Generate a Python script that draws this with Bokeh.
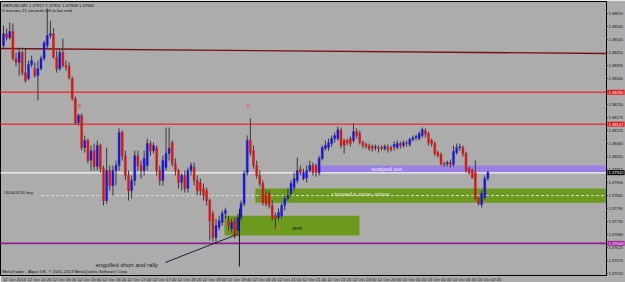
from bokeh.plotting import figure
from bokeh.models import Range1d, FixedTicker, Label, ColumnDataSource, PrintfTickFormatter
from bokeh.core.properties import value
from bokeh.embed import file_html
from bokeh.resources import INLINE

# ---------------- data ----------------
symbol = "GBPUSD,M5"
bar_index = list(range(156))
opens = [1.38480, 1.38530, 1.38513, 1.38539, 1.38425, 1.38408, 1.38450, 1.38365, 1.38340, 1.38399,
         1.38382, 1.38353, 1.38382, 1.38425, 1.38480, 1.38522, 1.38530, 1.38429, 1.38382, 1.38450,
         1.38395, 1.38391, 1.38340, 1.38255, 1.38154, 1.38184, 1.38048, 1.38078, 1.37993, 1.38035,
         1.37968, 1.38057, 1.37959, 1.37824, 1.37951, 1.37887, 1.37951, 1.37972, 1.38112, 1.38014,
         1.37930, 1.37866, 1.37909, 1.38014, 1.37972, 1.37951, 1.37972, 1.38065, 1.38035, 1.38048,
         1.37951, 1.37909, 1.37964, 1.38023, 1.38069, 1.37980, 1.37951, 1.37900, 1.37930, 1.37875,
         1.37951, 1.37964, 1.37909, 1.37900, 1.37875, 1.37866, 1.37824, 1.37769, 1.37668, 1.37710,
         1.37731, 1.37769, 1.37739, 1.37706, 1.37739, 1.37697, 1.37752, 1.37811, 1.37942, 1.38078,
         1.38035, 1.37972, 1.37930, 1.37896, 1.37845, 1.37854, 1.37803, 1.37760, 1.37752, 1.37760,
         1.37803, 1.37832, 1.37854, 1.37879, 1.37909, 1.37955, 1.37917, 1.37921, 1.37951, 1.37972,
         1.37972, 1.37942, 1.38002, 1.38044, 1.38048, 1.38065, 1.38086, 1.38086, 1.38120, 1.38078,
         1.38078, 1.38086, 1.38078, 1.38116, 1.38107, 1.38069, 1.38061, 1.38057, 1.38052, 1.38048,
         1.38048, 1.38048, 1.38044, 1.38048, 1.38048, 1.38052, 1.38048, 1.38065, 1.38057, 1.38069,
         1.38061, 1.38082, 1.38090, 1.38086, 1.38099, 1.38120, 1.38107, 1.38078, 1.38065, 1.38027,
         1.38019, 1.37980, 1.37980, 1.37985, 1.37976, 1.38027, 1.38048, 1.38048, 1.38023, 1.37959,
         1.37951, 1.37942, 1.37832, 1.37807, 1.37837, 1.37917]
highs = [1.38564, 1.38552, 1.38577, 1.38573, 1.38450, 1.38471, 1.38458, 1.38467, 1.38416, 1.38437,
         1.38408, 1.38416, 1.38437, 1.38501, 1.38636, 1.38585, 1.38552, 1.38458, 1.38467, 1.38509,
         1.38416, 1.38408, 1.38348, 1.38264, 1.38192, 1.38192, 1.38099, 1.38086, 1.38057, 1.38065,
         1.38078, 1.38065, 1.37972, 1.38048, 1.37972, 1.37972, 1.37993, 1.38129, 1.38120, 1.38035,
         1.37951, 1.37930, 1.38035, 1.38035, 1.37993, 1.38035, 1.38086, 1.38078, 1.38069, 1.38057,
         1.37972, 1.38014, 1.38133, 1.38133, 1.38078, 1.38002, 1.37959, 1.37942, 1.37951, 1.37964,
         1.37985, 1.37985, 1.37930, 1.37917, 1.37896, 1.37879, 1.37832, 1.37782, 1.37748, 1.37760,
         1.37782, 1.37794, 1.37760, 1.37748, 1.37752, 1.37769, 1.37824, 1.37951, 1.38099, 1.38171,
         1.38057, 1.37993, 1.37951, 1.37909, 1.37866, 1.37866, 1.37824, 1.37773, 1.37790, 1.37815,
         1.37845, 1.37875, 1.37909, 1.37942, 1.38006, 1.37972, 1.37959, 1.37972, 1.37993, 1.37985,
         1.37980, 1.38014, 1.38057, 1.38078, 1.38086, 1.38099, 1.38112, 1.38137, 1.38133, 1.38086,
         1.38086, 1.38095, 1.38150, 1.38129, 1.38120, 1.38078, 1.38069, 1.38065, 1.38061, 1.38061,
         1.38057, 1.38057, 1.38061, 1.38061, 1.38057, 1.38074, 1.38078, 1.38074, 1.38078, 1.38078,
         1.38090, 1.38099, 1.38103, 1.38116, 1.38133, 1.38129, 1.38116, 1.38086, 1.38074, 1.38035,
         1.38027, 1.37989, 1.37993, 1.37997, 1.38057, 1.38065, 1.38065, 1.38057, 1.38031, 1.37968,
         1.37959, 1.37993, 1.37841, 1.37866, 1.37930, 1.37951]
lows = [1.38471, 1.38501, 1.38505, 1.38416, 1.38391, 1.38353, 1.38353, 1.38323, 1.38332, 1.38387,
        1.38344, 1.38247, 1.38374, 1.38416, 1.38467, 1.38509, 1.38425, 1.38365, 1.38374, 1.38387,
        1.38374, 1.38336, 1.38247, 1.38145, 1.38141, 1.38035, 1.38027, 1.37980, 1.37951, 1.37951,
        1.37951, 1.37942, 1.37803, 1.37811, 1.37866, 1.37845, 1.37887, 1.37951, 1.37993, 1.37909,
        1.37824, 1.37832, 1.37887, 1.37951, 1.37917, 1.37930, 1.37951, 1.38014, 1.38023, 1.37930,
        1.37887, 1.37887, 1.37951, 1.37993, 1.37968, 1.37930, 1.37875, 1.37866, 1.37858, 1.37858,
        1.37930, 1.37887, 1.37845, 1.37845, 1.37824, 1.37803, 1.37655, 1.37651, 1.37642, 1.37697,
        1.37718, 1.37748, 1.37697, 1.37689, 1.37663, 1.37672, 1.37739, 1.37799, 1.37930, 1.38014,
        1.37959, 1.37917, 1.37883, 1.37803, 1.37799, 1.37790, 1.37739, 1.37706, 1.37739, 1.37748,
        1.37782, 1.37824, 1.37841, 1.37866, 1.37896, 1.37930, 1.37909, 1.37900, 1.37942, 1.37930,
        1.37925, 1.37930, 1.37993, 1.38035, 1.38035, 1.38052, 1.38069, 1.38078, 1.38044, 1.38023,
        1.38057, 1.38052, 1.38069, 1.38086, 1.38061, 1.38044, 1.38044, 1.38035, 1.38031, 1.38035,
        1.38027, 1.38035, 1.38035, 1.38027, 1.38031, 1.38035, 1.38040, 1.38044, 1.38048, 1.38052,
        1.38052, 1.38074, 1.38078, 1.38078, 1.38090, 1.38090, 1.38057, 1.38052, 1.38014, 1.38006,
        1.37972, 1.37968, 1.37968, 1.37964, 1.37968, 1.38019, 1.38035, 1.38010, 1.37942, 1.37934,
        1.37917, 1.37824, 1.37803, 1.37794, 1.37828, 1.37909]
closes = [1.38530, 1.38513, 1.38539, 1.38425, 1.38408, 1.38450, 1.38365, 1.38332, 1.38399, 1.38416,
          1.38353, 1.38382, 1.38425, 1.38492, 1.38522, 1.38530, 1.38429, 1.38382, 1.38450, 1.38395,
          1.38387, 1.38344, 1.38255, 1.38154, 1.38184, 1.38048, 1.38078, 1.37993, 1.38035, 1.37968,
          1.38057, 1.37959, 1.37824, 1.37951, 1.37887, 1.37951, 1.37972, 1.38112, 1.38014, 1.37930,
          1.37866, 1.37909, 1.38014, 1.37972, 1.37951, 1.38002, 1.38065, 1.38035, 1.38057, 1.37951,
          1.37909, 1.37993, 1.38023, 1.38044, 1.37980, 1.37951, 1.37900, 1.37930, 1.37875, 1.37951,
          1.37972, 1.37909, 1.37866, 1.37866, 1.37845, 1.37824, 1.37739, 1.37668, 1.37718, 1.37739,
          1.37769, 1.37782, 1.37718, 1.37731, 1.37676, 1.37752, 1.37811, 1.37938, 1.38078, 1.38027,
          1.37972, 1.37930, 1.37896, 1.37815, 1.37811, 1.37803, 1.37752, 1.37748, 1.37773, 1.37803,
          1.37832, 1.37845, 1.37896, 1.37917, 1.37951, 1.37942, 1.37942, 1.37951, 1.37972, 1.37942,
          1.37942, 1.38002, 1.38048, 1.38057, 1.38069, 1.38086, 1.38099, 1.38124, 1.38057, 1.38057,
          1.38069, 1.38065, 1.38116, 1.38099, 1.38069, 1.38057, 1.38052, 1.38044, 1.38044, 1.38052,
          1.38044, 1.38044, 1.38052, 1.38040, 1.38040, 1.38061, 1.38065, 1.38057, 1.38069, 1.38065,
          1.38082, 1.38090, 1.38095, 1.38107, 1.38124, 1.38103, 1.38069, 1.38065, 1.38023, 1.38014,
          1.37980, 1.37976, 1.37985, 1.37976, 1.38031, 1.38048, 1.38052, 1.38023, 1.37951, 1.37942,
          1.37921, 1.37832, 1.37811, 1.37854, 1.37917, 1.37942]

time_tick_bars = [0, 8, 16, 24, 32, 40, 48, 56, 64, 72, 80, 88, 96, 104, 112, 120, 128, 136, 144, 152]
time_tick_labels = ["12 Oct 2013", "12 Oct 14:20", "12 Oct 15:00", "12 Oct 15:40", "12 Oct 16:20",
                    "12 Oct 17:00", "12 Oct 17:40", "12 Oct 18:20", "12 Oct 19:00", "12 Oct 19:40",
                    "12 Oct 20:20", "12 Oct 21:00", "12 Oct 21:40", "12 Oct 22:20", "12 Oct 23:00",
                    "12 Oct 23:40", "13 Oct 00:20", "13 Oct 01:00", "13 Oct 01:40", "13 Oct 02:20"]
price_ticks = [1.38615, 1.38560, 1.38505, 1.38450, 1.38395, 1.38340, 1.38285, 1.38230, 1.38175,
               1.38120, 1.38065, 1.38010, 1.37955, 1.37900, 1.37845, 1.37790, 1.37735, 1.37680,
               1.37625, 1.37570, 1.37515]

# horizontal levels (price, colour)
hline_prices = [1.38282, 1.38147, 1.37941, 1.37643]
hline_colors = ["#ec3a3a", "#ec3a3a", "#f4f4f4", "#8e1e8e"]
hline_widths = [1.6, 1.6, 1.4, 1.6]
hline_tags = ["#e01c1c", "#e01c1c", "#000000", "#a424a4"]
# trend line (bar, price)
trend_bars = [-1.0, 195.0]
trend_prices = [1.38467, 1.38446]
# pending order line
order_price = 1.37845
order_label = "#40403230 buy"
# zones
zone_texts = ["scalped out", "r turned s zone, minor", "test"]
zone_left = [100.8, 80.6, 70.7]
zone_right = [200.0, 200.0, 113.9]
zone_top = [1.37972, 1.37875, 1.37760]
zone_bottom = [1.37942, 1.37815, 1.37676]
zone_colors = ["#9b80e4", "#6c9a1e", "#6c9a1e"]
zone_text_bars = [122.6, 114.2, 94.0]
zone_text_prices = [1.37957, 1.37852, 1.37706]
zone_text_colors = ["#ece4ff", "#e6eadc", "#222222"]
# comment annotation
note_text = "engulfed short and rally"
note_bar = 39.5
note_price = 1.37553
note_line_bars = [51.8, 74.6]
note_line_prices = [1.37562, 1.37680]
vline_bar = 75.5
vline_prices = [1.37545, 1.37790]
# zigzag marks
mark_bars = [24.3, 78.4, 87.7]
mark_prices = [1.38222, 1.38222, 1.37706]
mark_texts = ["8", "0", "0"]
mark_colors = ["#e04c4c", "#e04c4c", "#e07028"]

FONT = "Liberation Sans"
GRAY = "#acacac"
FRAME_W, FRAME_H = 606, 274
Y_LO, Y_HI = 1.37507, 1.38666

# ---------------- figure ----------------
x_lo, x_hi = -0.96, (FRAME_W - 3) / 3.125
p = figure(width=625, height=282, frame_width=FRAME_W, frame_height=FRAME_H,
           output_backend="svg", toolbar_location=None,
           x_range=Range1d(x_lo, x_hi), y_range=Range1d(Y_LO, Y_HI),
           y_axis_location="right",
           min_border_left=0, min_border_top=1, min_border_right=0, min_border_bottom=0,
           background_fill_color=GRAY, border_fill_color=GRAY,
           outline_line_color="black", outline_line_width=1)
p.grid.visible = False

# zones
p.quad(left=zone_left, right=zone_right, top=zone_top, bottom=zone_bottom,
       fill_color=zone_colors, line_color=None)

# levels
p.segment(x0=[x_lo - 2] * len(hline_prices), x1=[x_hi + 2] * len(hline_prices),
          y0=hline_prices, y1=hline_prices, line_color=hline_colors, line_width=hline_widths)
p.line(trend_bars, trend_prices, line_color="#7a1010", line_width=1.4)
p.segment(x0=[12.0], x1=[x_hi + 2], y0=[order_price], y1=[order_price],
          line_color="#dcdcdc", line_width=1, line_dash="3 2")

# candles
bull = [c >= o for o, c in zip(opens, closes)]
src = ColumnDataSource(dict(
    x=bar_index, high=highs, low=lows,
    top=[max(o, c) for o, c in zip(opens, closes)],
    bottom=[min(o, c) for o, c in zip(opens, closes)],
    color=["#1818d8" if b else "#d41818" for b in bull],
))
p.segment(x0="x", x1="x", y0="low", y1="high", source=src, line_color="#3a3a3a", line_width=1)
p.vbar(x="x", width=0.64, top="top", bottom="bottom", source=src,
       fill_color="color", line_color="color", line_width=0.4)

# annotation lines
p.line(note_line_bars, note_line_prices, line_color="#202040", line_width=1)
p.segment(x0=[vline_bar], x1=[vline_bar], y0=[vline_prices[0]], y1=[vline_prices[1]],
          line_color="#111111", line_width=1)

# texts
p.text(x=zone_text_bars, y=zone_text_prices, text=zone_texts, text_color=zone_text_colors,
       text_font=value(FONT), text_font_size=value("6px"), text_align="center", text_baseline="middle")
p.text(x=[note_bar], y=[note_price], text=[note_text], text_color="#222222",
       text_font=value(FONT), text_font_size=value("6px"), text_align="center", text_baseline="middle")
p.text(x=mark_bars, y=mark_prices, text=mark_texts, text_color=mark_colors,
       text_font=value(FONT), text_font_size=value("6px"), text_align="center", text_baseline="middle")
p.text(x=[0], y=[1.37856], text=[order_label], text_color="#1c1c1c",
       text_font=value(FONT), text_font_size=value("4.3px"), text_align="left", text_baseline="middle")
header1 = f"{symbol}  {opens[-1]:.5f} {highs[-1]:.5f} {lows[-1]:.5f} {closes[-1]:.5f}"
header2 = "0 minutes 21 seconds left to bar end"
p.text(x=[-0.4, -0.4], y=[1.38649, 1.38630], text=[header1, header2], text_color="#111111",
       text_font=value(FONT), text_font_size=value("4.3px"), text_align="left", text_baseline="middle")
p.text(x=[-0.4], y=[1.37524], text=["MetaTrader - Alpari UK, \u00a9 2001-2013 MetaQuotes Software Corp."],
       text_color="#111111", text_font=value(FONT), text_font_size=value("4.3px"),
       text_align="left", text_baseline="middle")

# axes
xa = p.xaxis[0]
x_ticks = [b + 3.5 for b in time_tick_bars]
xa.ticker = FixedTicker(ticks=x_ticks)
xa.major_label_overrides = {t: lab for t, lab in zip(x_ticks, time_tick_labels)}
xa.major_tick_out = 0
xa.major_tick_in = 0
xa.minor_tick_out = 0
xa.minor_tick_in = 0
xa.major_label_standoff = 1
xa.axis_line_color = "black"
xa.major_label_text_font = FONT
xa.major_label_text_font_size = "4.2px"
xa.major_label_text_color = "#111111"

ya = p.yaxis[0]
ya.ticker = FixedTicker(ticks=price_ticks)
ya.formatter = PrintfTickFormatter(format="%.5f")
ya.major_tick_out = 1
ya.major_tick_in = 0
ya.minor_tick_out = 0
ya.minor_tick_in = 0
ya.major_label_standoff = 1
ya.axis_line_color = "black"
ya.major_tick_line_color = "black"
ya.major_label_text_font = FONT
ya.major_label_text_font_size = "4px"
ya.major_label_text_color = "#111111"

# price tags on the right scale: placed in a side panel so they are not clipped to the frame;
# their position still comes from the data scales
extra = {"padding": 1} if "padding" in Label.properties() else {}
tag_prices = hline_prices[:2] + [closes[-1], hline_prices[3]]
for pr, col in zip(tag_prices, hline_tags):
    p.add_layout(Label(x=x_hi + 0.3, y=pr, x_units="data", y_units="data",
                       text=f"{pr:.5f}", text_font=FONT, text_font_size="4.2px",
                       text_color="white", text_baseline="middle", text_align="left",
                       background_fill_color=col, background_fill_alpha=1.0, **extra), "below")

open("out.html", "w").write(file_html(p, INLINE))
